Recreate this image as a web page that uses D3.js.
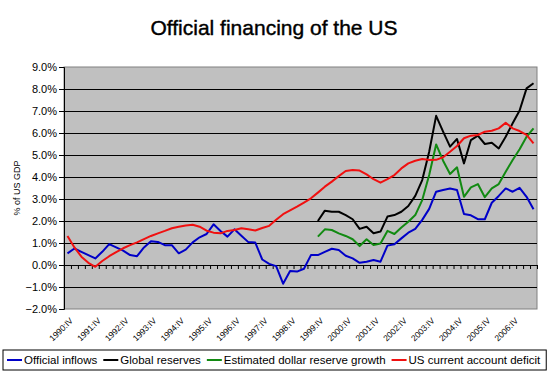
<!DOCTYPE html>
<html>
<head>
<meta charset="utf-8">
<script src="https://cdn.jsdelivr.net/npm/d3@7"></script>
<style>
  body { margin: 0; background: #fff; }
  svg { font-family: "Liberation Sans", Arial, sans-serif; }
  .axis text { font-size: 11px; fill: #000; }
  .x-labels text { font-size: 8.5px; }
  .grid line { stroke: #000; stroke-width: 1; }
</style>
</head>
<body>
<svg id="chart"></svg>
<script>
// Quarterly categories, 1990:IV .. 2007:III
const roman = ['I', 'II', 'III', 'IV'];
const quarters = d3.range(68).map(i => {
  const q = 3 + i;
  return `${1990 + Math.floor(q / 4)}:${roman[q % 4]}`;
});
const tickLabels = ['1990:IV', '1991:IV', '1992:IV', '1993:IV', '1994:IV', '1995:IV',
  '1996:IV', '1997:IV', '1998:IV', '1999:IV', '2000:IV', '2001:IV', '2002:IV',
  '2003:IV', '2004:IV', '2005:IV', '2006:IV'];
const yTicks = [-2, -1, 0, 1, 2, 3, 4, 5, 6, 7, 8, 9];

// % of US GDP
const officialInflows = [
  0.53, 0.75, 0.6, 0.45, 0.3, 0.6, 0.95, 0.8,
  0.65, 0.45, 0.4, 0.8, 1.08, 1.05, 0.9, 0.9,
  0.53, 0.7, 1.03, 1.26, 1.41, 1.85, 1.55, 1.29,
  1.62, 1.33, 1.04, 1.02, 0.25, 0.05, -0.05, -0.85,
  -0.27, -0.3, -0.17, 0.45, 0.45, 0.6, 0.74, 0.68,
  0.42, 0.3, 0.1, 0.15, 0.23, 0.15, 0.88, 0.94,
  1.21, 1.47, 1.64, 2.05, 2.55, 3.33, 3.41, 3.48,
  3.41, 2.32, 2.26, 2.08, 2.08, 2.83, 3.14, 3.48,
  3.33, 3.51, 3.1, 2.53];
const currentAccountDeficit = [
  1.32, 0.8, 0.38, 0.1, -0.08, 0.18, 0.4, 0.59,
  0.76, 0.9, 1.03, 1.18, 1.32, 1.44, 1.55, 1.67,
  1.74, 1.8, 1.83, 1.74, 1.56, 1.47, 1.44, 1.55,
  1.59, 1.67, 1.62, 1.57, 1.68, 1.78, 2.06, 2.31,
  2.48, 2.65, 2.84, 3.03, 3.29, 3.56, 3.79, 4.04,
  4.27, 4.32, 4.29, 4.12, 3.9, 3.74, 3.9, 4.09,
  4.39, 4.62, 4.74, 4.82, 4.77, 4.78, 4.9, 5.15,
  5.41, 5.76, 5.88, 5.91, 6.06, 6.1, 6.21, 6.47,
  6.21, 6.09, 5.91, 5.53];
// these two start at 1999:IV
const reservesStart = '1999:IV';
const globalReserves = [
  2.0, 2.47, 2.42, 2.42, 2.27, 2.08, 1.64, 1.74,
  1.44, 1.52, 2.2, 2.27, 2.42, 2.68, 3.14, 3.86,
  5.15, 6.78, 6.06, 5.38, 5.73, 4.62, 5.68, 5.88,
  5.5, 5.56, 5.3, 5.83, 6.44, 7.02, 8.03, 8.26];
const dollarReserveGrowth = [
  1.29, 1.62, 1.59, 1.44, 1.32, 1.17, 0.86, 1.17,
  0.91, 0.98, 1.55, 1.41, 1.7, 1.97, 2.27, 2.95,
  4.09, 5.48, 4.74, 4.14, 4.44, 3.1, 3.53, 3.68,
  3.08, 3.48, 3.68, 4.24, 4.77, 5.26, 5.83, 6.21];

const seriesNames = ['Official inflows', 'Global reserves', 'Estimated dollar reserve growth', 'US current account deficit'];
const seriesColors = ['#0000c8', '#000000', '#128a12', '#f01010'];

const startIdx = quarters.indexOf(reservesStart);
const series = [
  { name: seriesNames[0], color: seriesColors[0], values: officialInflows.map((v, i) => ({ q: quarters[i], v })) },
  { name: seriesNames[1], color: seriesColors[1], values: globalReserves.map((v, i) => ({ q: quarters[startIdx + i], v })) },
  { name: seriesNames[2], color: seriesColors[2], values: dollarReserveGrowth.map((v, i) => ({ q: quarters[startIdx + i], v })) },
  { name: seriesNames[3], color: seriesColors[3], values: currentAccountDeficit.map((v, i) => ({ q: quarters[i], v })) }
];

const width = 547, height = 374;
const margin = { top: 67, right: 10, bottom: 65, left: 64 };
const innerW = width - margin.left - margin.right;
const innerH = height - margin.top - margin.bottom;

const svg = d3.select('#chart')
  .attr('width', width)
  .attr('height', height);

// Title
svg.append('text')
  .attr('x', 274)
  .attr('y', 35)
  .attr('text-anchor', 'middle')
  .style('font-size', '21px')
  .style('stroke', '#000')
  .style('stroke-width', 0.4)
  .text('Official financing of the US');

const chart = svg.append('g')
  .attr('transform', `translate(${margin.left},${margin.top})`);

const xScale = d3.scaleBand()
  .domain(quarters)
  .range([0, innerW])
  .paddingInner(0)
  .paddingOuter(0);
// boundaries between categories, for the small tick marks
const xEdge = d3.scaleLinear()
  .domain([0, quarters.length])
  .range([0, innerW]);

const yScale = d3.scaleLinear()
  .domain([-2, 9])
  .range([innerH, 0]);

// Plot area
chart.append('rect')
  .attr('width', innerW)
  .attr('height', innerH)
  .attr('fill', '#c0c0c0')
  .attr('stroke', '#808080')
  .attr('stroke-width', 1);

// Gridlines
chart.append('g')
  .attr('class', 'grid')
  .call(d3.axisLeft(yScale).tickValues(yTicks.filter(d => d !== -2 && d !== 0 && d !== 9)).tickSize(-innerW).tickFormat(''))
  .call(g => g.select('.domain').remove());

// Y axis
chart.append('g')
  .attr('class', 'axis y-axis')
  .call(d3.axisLeft(yScale).tickValues(yTicks).tickSize(5).tickPadding(2)
    .tickFormat(d => d3.format('.1f')(d) + '%'))
  .call(g => g.select('.domain').attr('stroke', '#000'));

// X axis line at zero with category ticks
chart.append('g')
  .attr('class', 'axis x-axis')
  .attr('transform', `translate(0,${yScale(0)})`)
  .call(d3.axisBottom(xEdge).tickValues(d3.range(quarters.length + 1)).tickSize(4).tickSizeOuter(0).tickFormat(''));

// Rotated category labels below the plot
chart.append('g')
  .attr('class', 'x-labels')
  .attr('transform', `translate(0,${innerH})`)
  .selectAll('text')
  .data(tickLabels)
  .join('text')
  .attr('transform', d => `translate(${xScale(d) + xScale.bandwidth() / 2 + 4},${10}) rotate(-45)`)
  .attr('dy', '0.35em')
  .attr('text-anchor', 'end')
  .text(d => d);

// Y axis title
svg.append('text')
  .attr('transform', `translate(20,${margin.top + yScale(3.5)}) rotate(-90)`)
  .attr('text-anchor', 'middle')
  .style('font-size', '9px')
  .text('% of US GDP');

// Lines
const line = d3.line()
  .x(d => xScale(d.q) + xScale.bandwidth() / 2)
  .y(d => yScale(d.v));

chart.selectAll('.series')
  .data(series)
  .join('path')
  .attr('class', 'series')
  .attr('fill', 'none')
  .attr('stroke', d => d.color)
  .attr('stroke-width', 2)
  .attr('stroke-linejoin', 'round')
  .attr('d', d => line(d.values));

// Legend
const legend = svg.append('g')
  .attr('transform', 'translate(3,350)');
const legendBox = legend.append('rect')
  .attr('height', 20)
  .attr('fill', '#fff')
  .attr('stroke', '#000');
let lx = 4;
series.forEach(s => {
  legend.append('line')
    .attr('x1', lx).attr('x2', lx + 15)
    .attr('y1', 10).attr('y2', 10)
    .attr('stroke', s.color)
    .attr('stroke-width', 2);
  const t = legend.append('text')
    .attr('x', lx + 17)
    .attr('y', 14)
    .style('font-size', '11.5px')
    .text(s.name);
  lx += 17 + t.node().getComputedTextLength() + 6;
});
legendBox.attr('width', lx);
</script>
</body>
</html>
